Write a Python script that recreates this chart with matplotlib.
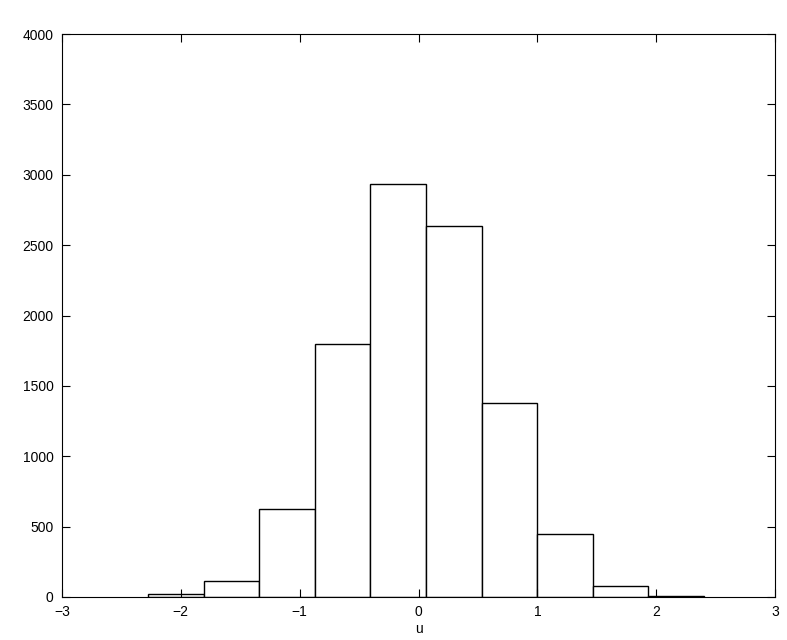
import matplotlib
matplotlib.use("Agg")
import matplotlib.pyplot as plt

bin_edges = [-2.277, -1.809, -1.341, -0.873, -0.405, 0.063, 0.531, 0.999, 1.467, 1.935, 2.403]
counts = [21, 114, 625, 1797, 2934, 2636, 1378, 448, 78, 7]
xticks = [-3, -2, -1, 0, 1, 2, 3]
yticks = [0, 500, 1000, 1500, 2000, 2500, 3000, 3500, 4000]

plt.rcParams['font.family'] = ['Liberation Sans', 'DejaVu Sans']
fig = plt.figure(figsize=(7.87, 6.40), dpi=100)
ax = fig.add_axes([62/787, 43/640, 713/787, 563/640])

lefts = bin_edges[:-1]
widths = [b - a for a, b in zip(bin_edges[:-1], bin_edges[1:])]
ax.bar(lefts, counts, width=widths, align='edge', facecolor='white',
       edgecolor='black', linewidth=1.0)

ax.set_xlim(-3, 3)
ax.set_ylim(0, 4000)
ax.set_xticks(xticks)
ax.set_xticklabels([str(t).replace('-', '\u2212') for t in xticks])
ax.set_yticks(yticks)
ax.tick_params(direction='in', top=True, right=True, length=6, width=0.8,
               labelsize=10, colors='black', pad=6)
for s in ax.spines.values():
    s.set_linewidth(0.8)
ax.set_xlabel('u', fontsize=10, labelpad=2)

fig.savefig('out.png', dpi=100)
